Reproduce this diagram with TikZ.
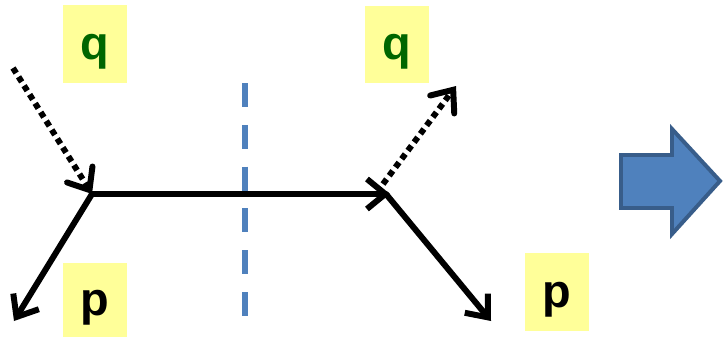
\documentclass[tikz,border=0pt]{standalone}
\usepackage{fontspec}
\setmainfont{Liberation Sans}
\usepackage{xcolor}
\definecolor{cLabel}{HTML}{FFFF99}
\definecolor{cGreen}{HTML}{006600}
\definecolor{cCut}{HTML}{4F81BD}
\definecolor{cArrowFill}{HTML}{4F81BD}
\definecolor{cArrowLine}{HTML}{385D8A}
\usepackage{tikz}
\usetikzlibrary{positioning,arrows.meta}
\tikzset{
  label-box/.style={fill=cLabel,minimum width=1.92cm,minimum height=2.3cm,
    inner sep=0pt,text height=36pt,text depth=10pt,
    font=\fontsize{40}{40}\selectfont\bfseries},
  line-prop/.style={line width=5.1pt,draw=black,line cap=round,
    -{Straight Barb[length=5.5mm,width=9mm,line width=5.1pt]}},
  line-photon/.style={line width=5.1pt,draw=black,
    dash pattern=on 5.1pt off 3.8pt,
    -{Straight Barb[length=5.5mm,width=9mm,line width=5.1pt,line cap=round]}},
  cut-line/.style={line width=5pt,draw=cCut,dash pattern=on 20.4pt off 15.3pt},
  block-arrow/.style={fill=cArrowFill,draw=cArrowLine,line width=3.4pt},
}

\begin{document}
\begin{tikzpicture}[x=0.03cm,y=-0.03cm]
  \useasboundingbox (0,0) rectangle (723,337);
  % vertices and free ends
  \coordinate (v1) at (92,194);
  \coordinate (v2) at (390,194);
  \coordinate (qin) at (13,68);
  \coordinate (qout) at (456,86);
  \coordinate (pout1) at (14,321);
  \coordinate (pout2) at (491,321);
  % labels
  \node[label-box,text=cGreen,minimum height=2.33cm] (qa) at (95,44) {q};
  \node[label-box,text=cGreen,minimum height=2.31cm] (qb) at (396.5,44.5) {q};
  \node[label-box,minimum height=2.22cm] (pa) at (95,300) {p};
  \node[label-box,minimum height=2.34cm] (pb) at (556.5,292) {p};
  % lines
  \draw[line-photon] (qin) -- (v1);
  \draw[line-prop] (v1) -- (pout1);
  \draw[line-prop] (v1) -- (v2);
  \draw[line-photon] ([shift={(-7,-10)}]v2) -- (qout);
  \draw[line-prop] ([shift={(-4,0)}]v2) -- (pout2);
  % cut
  \coordinate (cuttop) at (245,83);
  \coordinate (cutbot) at (245,318);
  \draw[cut-line] (cuttop) -- (cutbot);
  % big arrow
  \draw[block-arrow] (621,155) -- (672,155) -- (672,129) -- (720,181)
    -- (672,234) -- (672,208) -- (621,208) -- cycle;
\end{tikzpicture}
\end{document}
